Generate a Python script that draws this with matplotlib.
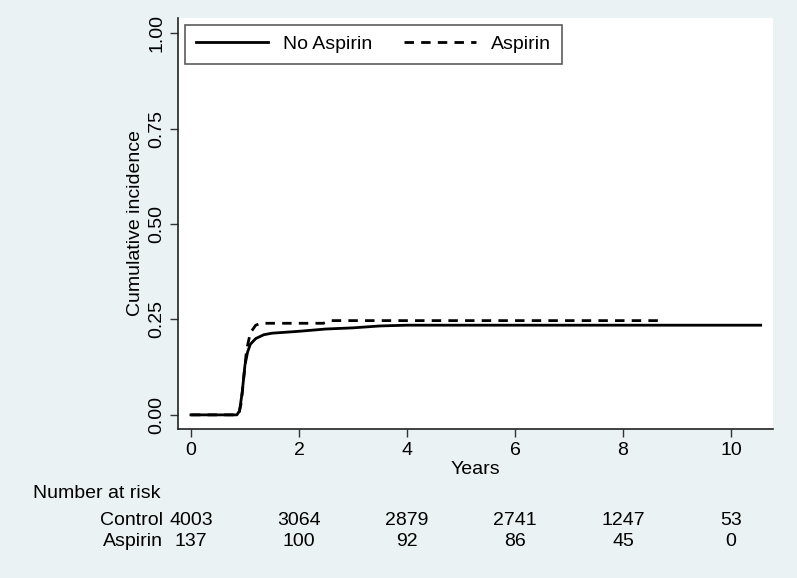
"""Cumulative incidence by aspirin use, with number-at-risk table."""

import matplotlib
matplotlib.use("Agg")
import matplotlib.pyplot as plt
import matplotlib.transforms as mtransforms

plt.rcParams["font.family"] = ["Liberation Sans", "DejaVu Sans"]

# curve data (years, cumulative incidence)
no_asp_t = [0, 0.85, 0.9, 0.95, 1.0, 1.05, 1.1, 1.2, 1.35, 1.5, 2.0, 2.5, 3.0, 3.5, 4.0, 10.55]
no_asp_y = [0, 0, 0.01, 0.06, 0.13, 0.165, 0.185, 0.200, 0.210, 0.214, 0.219, 0.225, 0.228, 0.233, 0.235, 0.235]
asp_t = [0, 0.88, 0.93, 0.98, 1.03, 1.1, 1.2, 1.3, 2.45, 2.6, 8.72]
asp_y = [0, 0, 0.03, 0.10, 0.17, 0.215, 0.235, 0.24, 0.24, 0.247, 0.247]

# number at risk
risk_times = [0, 2, 4, 6, 8, 10]
risk_control = [4003, 3064, 2879, 2741, 1247, 53]
risk_aspirin = [137, 100, 92, 86, 45, 0]

x_ticks = [0, 2, 4, 6, 8, 10]
y_ticks = [0.0, 0.25, 0.5, 0.75, 1.0]

bg = "#eaf2f3"
fs = 14

fig = plt.figure(figsize=(7.97, 5.78), dpi=100, facecolor=bg)
ax = fig.add_axes([0.2233, 0.2578, 0.7467, 0.7111])
ax.set_facecolor("white")

ax.plot(no_asp_t, no_asp_y, color="black", lw=2.0, label="No Aspirin")
ax.plot(asp_t, asp_y, color="black", lw=2.0, linestyle=(0, (3.4, 2.6)), label="Aspirin")

ax.set_xlim(-0.24, 10.78)
ax.set_ylim(-0.037, 1.04)
ax.set_xticks(x_ticks)
ax.set_yticks(y_ticks)
ax.set_yticklabels([f"{v:.2f}" for v in y_ticks], rotation=90, va="center")
ax.tick_params(direction="out", length=6, width=1, labelsize=fs, color="#333333")
ax.tick_params(axis="y", pad=3)

for side in ["top", "right"]:
    ax.spines[side].set_visible(False)
for side in ["left", "bottom"]:
    ax.spines[side].set_color("#222222")
    ax.spines[side].set_linewidth(1.2)

ax.set_xlabel("Years", fontsize=fs, labelpad=1)
ax.set_ylabel("Cumulative incidence", fontsize=fs, labelpad=3)

leg = ax.legend(loc="upper left", ncol=2, frameon=True, fontsize=fs,
                handlelength=3.7, columnspacing=1.6, handletextpad=0.8,
                borderpad=0.55, borderaxespad=0, fancybox=False,
                bbox_to_anchor=(0.012, 0.983))
leg.get_frame().set_edgecolor("#333333")
leg.get_frame().set_linewidth(1.2)

# number-at-risk table under the axis
trans = mtransforms.blended_transform_factory(ax.transData, fig.transFigure)
fig.text(0.041, 0.147, "Number at risk", fontsize=fs, ha="left", va="center")
fig.text(0.205, 0.100, "Control", fontsize=fs, ha="right", va="center")
fig.text(0.204, 0.064, "Aspirin", fontsize=fs, ha="right", va="center")
for t, c, a in zip(risk_times, risk_control, risk_aspirin):
    ax.text(t, 0.100, str(c), transform=trans, fontsize=fs, ha="center", va="center")
    ax.text(t, 0.064, str(a), transform=trans, fontsize=fs, ha="center", va="center")

fig.savefig("out.png", dpi=100, facecolor=bg)
